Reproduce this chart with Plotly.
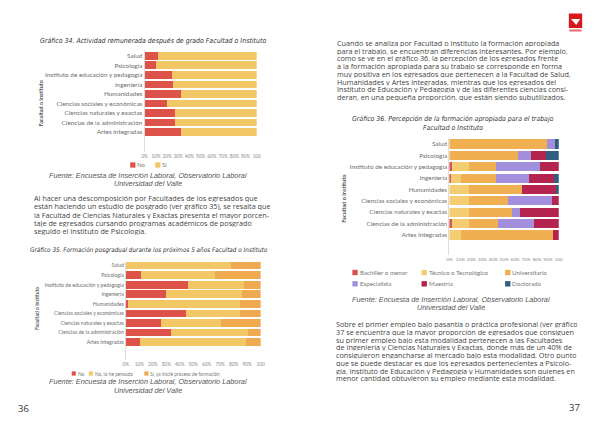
import plotly.graph_objects as go

W, H = 600, 425

# ---------------- data ----------------
facultades = ["Salud", "Psicología", "Instituto de educación y pedagogía", "Ingeniería",
              "Humanidades", "Ciencias sociales y económicas", "Ciencias naturales y exactas",
              "Ciencias de la administración", "Artes integradas"]

# Gráfico 34
g34_no = [11.8, 10.3, 24.4, 25.3, 32.4, 20.0, 27.4, 27.1, 32.4]
g34_si = [88.2, 89.7, 75.6, 74.7, 67.6, 80.0, 72.6, 72.9, 67.6]

# Gráfico 35
g35_no = [0.0, 11.5, 46.0, 29.8, 1.7, 44.5, 26.2, 33.5, 10.8]
g35_pensado = [78.0, 55.0, 41.3, 56.2, 83.1, 40.3, 44.2, 57.0, 78.4]
g35_inicie = [22.0, 33.5, 12.7, 14.0, 15.2, 15.2, 29.6, 9.5, 10.8]

# Gráfico 36
g36_bach = [0.0, 0.0, 2.0, 1.5, 0.0, 0.0, 0.0, 2.0, 0.0]
g36_tec = [0.0, 0.0, 15.5, 9.5, 17.5, 17.5, 17.5, 15.5, 10.5]
g36_univ = [89.0, 62.7, 24.7, 31.5, 48.5, 36.5, 39.7, 26.5, 84.1]
g36_esp = [8.0, 12.3, 40.9, 30.7, 0.0, 40.0, 7.0, 33.7, 0.0]
g36_maes = [0.0, 13.0, 16.9, 22.8, 32.5, 6.0, 35.8, 22.3, 5.4]
g36_doc = [3.0, 12.0, 0.0, 4.0, 1.5, 0.0, 0.0, 0.0, 0.0]

ticks = [0, 10, 20, 30, 40, 50, 60, 70, 80, 90, 100]
ticktext = ["0%", "10%", "20%", "30%", "40%", "50%", "60%", "70%", "80%", "90%", "100"]

para1 = ["Al hacer una descomposición por Facultades de los egresados que",
         "están haciendo un estudio de posgrado (ver gráfico 35), se resalta que",
         "la Facultad de Ciencias Naturales y Exactas presenta el mayor porcen-",
         "taje de egresados cursando programas académicos de posgrado",
         "seguido el Instituto de Psicología."]
para2 = ["Cuando se analiza por Facultad o Instituto la formación apropiada",
         "para el trabajo, se encuentran diferencias interesantes. Por ejemplo,",
         "como se ve en el gráfico 36, la percepción de los egresados frente",
         "a la formación apropiada para su trabajo se corresponde en forma",
         "muy positiva en los egresados que pertenecen a la Facultad de Salud,",
         "Humanidades y Artes integradas, mientras que los egresados del",
         "Instituto de Educación y Pedagogía y de las diferentes ciencias consi-",
         "deran, en una pequeña proporción, que están siendo subutilizados."]
para3 = ["Sobre el primer empleo bajo pasantía o práctica profesional (ver gráfico",
         "37 se encuentra que la mayor proporción de egresados que consiguen",
         "su primer empleo bajo esta modalidad pertenecen a las Facultades",
         "de Ingeniería y Ciencias Naturales y Exactas, donde más de un 40% de",
         "consiguieron engancharse al mercado bajo esta modalidad. Otro punto",
         "que se puede destacar es que los egresados pertenecientes a Psicolo-",
         "gía, Instituto de Educación y Pedagogía y Humanidades son quienes en",
         "menor cantidad obtuvieron su empleo mediante esta modalidad."]

RED = "#de5349"
YEL = "#f2c766"
ORA = "#efa94f"
C36 = ["#d9544f", "#f4cd72", "#f0b052", "#a290dc", "#b5234f", "#2f5f80"]
N36 = ["Bachiller o menor", "Técnico o Tecnológico", "Universitario",
       "Especialista", "Maestría", "Doctorado"]

fig = go.Figure()


def px(x):
    return x / W


def py(y):
    return 1 - y / H


def add_bar(vals, color, name, ax):
    fig.add_trace(go.Bar(x=vals, y=facultades, orientation="h", name=name,
                         marker=dict(color=color, line=dict(width=0)),
                         xaxis="x" + ax, yaxis="y" + ax, showlegend=False))


add_bar(g34_no, RED, "No", "")
add_bar(g34_si, YEL, "Sí", "")
add_bar(g35_no, RED, "No", "2")
add_bar(g35_pensado, YEL, "No, lo he pensado", "2")
add_bar(g35_inicie, ORA, "Sí, ya inicié proceso de formación", "2")
for vals, c, n in zip([g36_bach, g36_tec, g36_univ, g36_esp, g36_maes, g36_doc], C36, N36):
    add_bar(vals, c, n, "3")

LBL = "Lato, Open Sans, sans-serif"


def xax(x0, x1, fs, anchor):
    return dict(domain=[px(x0), px(x1)], range=[0, 100], tickvals=ticks, ticktext=ticktext,
                showgrid=False, zeroline=False, showline=False, anchor=anchor, tickangle=0,
                tickfont=dict(size=fs, color="#8a8a8a", family=LBL), ticks="")


def yax(ytop, ybot, rtop, rbot, fs, anchor):
    return dict(domain=[py(ybot), py(ytop)], type="category", categoryorder="array",
                categoryarray=facultades, range=[rbot, rtop], showgrid=False, zeroline=False,
                showline=True, linecolor="#dddddd", linewidth=1, anchor=anchor,
                tickfont=dict(size=fs, color="#6e6e6e", family=LBL), ticks="")


fig.update_layout(
    width=W, height=H, margin=dict(l=0, r=0, t=0, b=0),
    paper_bgcolor="white", plot_bgcolor="white", barmode="stack", bargap=0.2,
    xaxis=xax(143.3, 256.7, 4.7, "y"),
    yaxis=yax(50, 152, -0.6, 10.1, 6.4, "x"),
    xaxis2=xax(124.3, 260.7, 4.8, "y2"),
    yaxis2=yax(261.7, 360, -0.4, 9.86, 5.2, "x2"),
    xaxis3=xax(451.7, 562.3, 4.6, "y3"),
    yaxis3=yax(138.3, 255, -0.5, 9.76, 6.4, "x3"),
)

ann = []
shapes = []


def text(x, y, s, size, color="#444444", family="Open Sans, sans-serif", xanchor="left",
         angle=0, h=None):
    d = dict(x=px(x), y=py(y), xref="paper", yref="paper", text=s, showarrow=False,
             xanchor=xanchor, yanchor="middle", textangle=angle, borderpad=0,
             font=dict(size=size, color=color, family=family))
    if h is not None:
        d["height"] = h
    ann.append(d)


def leg(x, y, sz, color, s, fs):
    shapes.append(dict(type="rect", xref="paper", yref="paper", x0=px(x), x1=px(x + sz),
                       y0=py(y + sz / 2), y1=py(y - sz / 2), fillcolor=color, line=dict(width=0)))
    text(x + sz + 1, y, s, fs, color="#777777", family=LBL)


def paragraph(lines, x0, y0, dy, fs):
    for i, line in enumerate(lines):
        text(x0, y0 + dy * i, line, fs, "#444444", BODY, h=dy - 0.3)


TITLE = "Liberation Sans Narrow, DejaVu Sans Condensed, Roboto, sans-serif"
FUENTE = "Liberation Sans, Arial, sans-serif"
BODY = "Open Sans, sans-serif"
BS = 7.25

# ---- Left page ----
text(152, 40.7, "<i>Gráfico 34. Actividad remunerada después de grado Facultad o Instituto</i>",
     6.95, "#333333", TITLE, "center")
text(38.3, 103.7, "<b>Facultad o Instituto</b>", 5.4, "#555555", LBL, "center", -90)
leg(128.7, 165, 5.3, RED, "No", 6)
leg(154, 165, 5.3, YEL, "Sí", 6)
text(147, 175.7, "<i>Fuente: Encuesta de Inserción Laboral, Observatorio Laboral</i>", 7.3, "#555555",
     FUENTE, "center", h=7.5)
text(147, 183.5, "<i>Universidad del Valle</i>", 7.3, "#555555", FUENTE, "center", h=7.5)

paragraph(para1, 30.5, 198.3, 8.2, BS)

text(148, 250, "<i>Gráfico 35. Formación posgradual durante los próximos 5 años Facultad o Instituto</i>",
     6.35, "#333333", TITLE, "center")
text(34.3, 308, "<b>Facultad o Instituto</b>", 5.0, "#555555", LBL, "center", -90)
leg(69.5, 373.5, 4.2, RED, "No", 4.8)
leg(86.8, 373.5, 4.2, YEL, "No, lo he pensado", 4.8)
leg(143, 373.5, 4.2, ORA, "Sí, ya inicié proceso de formación", 4.8)
text(147, 382.3, "<i>Fuente: Encuesta de Inserción Laboral, Observatorio Laboral</i>", 7.3, "#555555",
     FUENTE, "center", h=7.5)
text(147, 390.7, "<i>Universidad del Valle</i>", 7.3, "#555555", FUENTE, "center", h=7.5)
text(14, 408.3, "36", 9.5, "#333333", BODY)

# ---- Right page ----
paragraph(para2, 336.5, 42.3, 7.75, BS)

text(455, 118.7, "<i>Gráfico 36. Percepción de la formación apropiada para el trabajo</i>",
     6.9, "#333333", TITLE, "center", h=8)
text(455, 128.3, "<i>Facultad o Instituto</i>", 6.9, "#333333", TITLE, "center", h=8)
text(345, 197.7, "<b>Facultad o Instituto</b>", 5.6, "#555555", LBL, "center", -90)
lx = [353.5, 423.5, 508]
for k in range(6):
    leg(lx[k % 3], 272.5 if k < 3 else 283.8, 5.4, C36[k], N36[k], 6.2)
text(453, 299.5, "<i>Fuente: Encuesta de Inserción Laboral, Observatorio Laboral</i>", 7.3, "#555555",
     FUENTE, "center", h=7.5)
text(453, 308, "<i>Universidad del Valle</i>", 7.3, "#555555", FUENTE, "center", h=7.5)

paragraph(para3, 336, 323.5, 7.75, BS)

text(585, 407.3, "37", 9.5, "#333333", BODY, "right")

# logo
shapes.append(dict(type="rect", xref="paper", yref="paper", x0=px(572.5), x1=px(586),
                   y0=py(28), y1=py(13.5), fillcolor="#d7191e", line=dict(width=0)))
shapes.append(dict(type="path", xref="paper", yref="paper",
                   path="M %f,%f L %f,%f L %f,%f L %f,%f Z" % (px(574.5), py(19), px(584), py(19),
                                                               px(580), py(25), px(577.5), py(22)),
                   fillcolor="white", line=dict(width=0)))
shapes.append(dict(type="rect", xref="paper", yref="paper", x0=px(573), x1=px(585.5),
                   y0=py(31.5), y1=py(29.5), fillcolor="#e46a6e", line=dict(width=0)))

fig.update_layout(annotations=ann, shapes=shapes)
fig.write_html("out.html", config={"displayModeBar": False},
               post_script="document.body.style.margin='0px';document.body.style.overflow='hidden';")
